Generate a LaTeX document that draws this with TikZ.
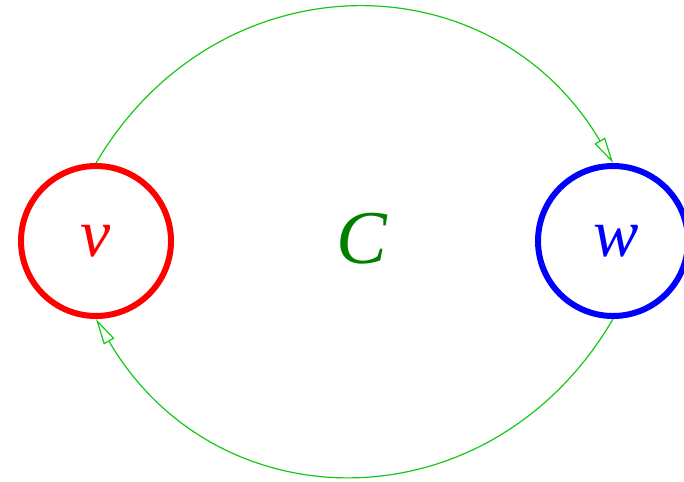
\documentclass[tikz,border=0pt]{standalone}
\usepackage{fontspec}
\setmainfont{Liberation Serif}
\usetikzlibrary{arrows.meta}
\definecolor{arcgreen}{RGB}{20,200,20}
\definecolor{labgreen}{RGB}{0,128,0}
\begin{document}
\begin{tikzpicture}[x=1pt,y=-1pt,
  vert/.style={circle,minimum size=150pt,inner sep=0pt,line width=6pt},
  lab/.style={font=\fontsize{68}{70}\selectfont\itshape},
  edge/.style={draw=arcgreen,line width=1.2pt,-{Triangle[open,length=26pt,width=12pt,line width=1.2pt]}}]
\useasboundingbox (0,0) rectangle (684,481);
\node[vert,draw=red] (v) at (96,241) {};
\node[vert,draw=blue] (w) at (613,241) {};
\node[lab,text=red] (vl) at (96,241) {v};
\node[lab,text=blue] (wl) at (616,241) {w};
\node[font=\fontsize{76}{78}\selectfont\itshape,text=labgreen] (c) at (362,239) {C};
\draw[edge] (v.north) .. controls (217.5,-43) and (491.5,-43) .. (w.north);
\draw[edge] (w.south) .. controls (491.5,527) and (217.5,527) .. (v.south);
\end{tikzpicture}
\end{document}
